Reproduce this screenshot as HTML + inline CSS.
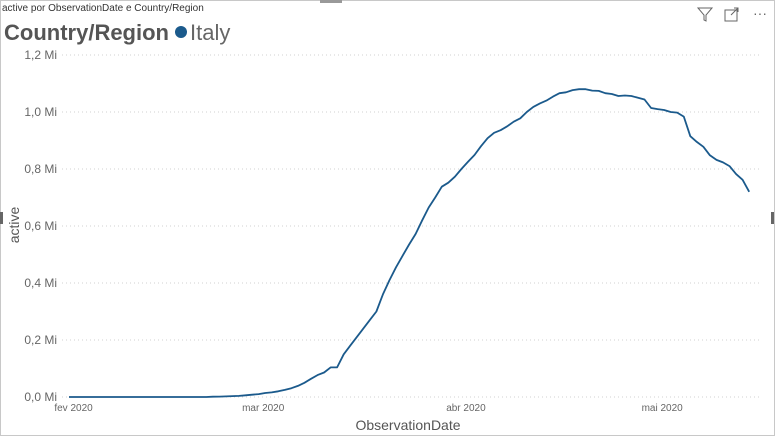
<!DOCTYPE html>
<html><head><meta charset="utf-8">
<style>
body{margin:0;width:775px;height:436px;overflow:hidden;background:#fff;font-family:"Liberation Sans",sans-serif}
#frame{position:absolute;left:0;top:0;width:773px;height:434px;border:1px solid #c8c8c8}
</style></head><body>
<div id="frame"></div>
<svg width="775" height="436" style="position:absolute;left:0;top:0" id="chart">
<rect x="320" y="0" width="22" height="3" fill="#999"/>
<rect x="771" y="212" width="3" height="12" fill="#666"/>
<rect x="0" y="212" width="3" height="12" fill="#666"/>
<text x="2" y="11" font-size="10" fill="#333" font-family="Liberation Sans Narrow, Liberation Sans, sans-serif">active por ObservationDate e Country/Region</text>
<text x="4" y="40" font-size="22" font-weight="bold" fill="#555">Country/Region</text>
<circle cx="181" cy="32" r="6" fill="#1b5a8c"/>
<text x="190" y="40" font-size="22" fill="#666">Italy</text>
<g fill="none" stroke="#666" stroke-width="1"><path d="M698 8 H712 L706 15 V21 L704 20 V15 Z"/></g>
<g fill="none" stroke="#666" stroke-width="1"><rect x="725" y="10" width="12" height="11"/><path d="M731 15 L738 8 M734 8 H738 V12"/></g>
<text x="753" y="18" font-size="14" fill="#666">···</text>
<g id="grid"></g>
<g id="yt"></g>
<g id="xt"></g>
<path id="line" fill="none" stroke="#1b5a8c" stroke-width="1.8" stroke-linejoin="round"/>
<text x="408" y="430" font-size="14" fill="#555" text-anchor="middle">ObservationDate</text>
<text transform="translate(19,225) rotate(-90)" font-size="14" fill="#555" text-anchor="middle">active</text>
</svg>
<script>
const yTicks=[0,0.2,0.4,0.6,0.8,1.0,1.2];
const yTickLabels=["0,0 Mi","0,2 Mi","0,4 Mi","0,6 Mi","0,8 Mi","1,0 Mi","1,2 Mi"];
const xTickDays=[1,30,61,91];
const xTickLabels=["fev 2020","mar 2020","abr 2020","mai 2020"];
// daily values (Mi) starting 2020-01-31
const activeValues=[0,0,0,0,0,0,0,0,0,0,0,0,0,0,0,0,0,0,0,0,0,0,
0.001,0.0015,0.002,0.003,0.004,0.006,0.008,0.010,0.014,0.016,0.020,0.025,0.031,0.039,0.050,0.064,0.077,0.086,
0.104,0.104,0.150,0.180,0.210,0.240,0.270,0.300,0.360,0.410,0.455,0.495,0.535,0.572,0.620,0.665,0.700,0.738,
0.752,0.773,0.800,0.825,0.849,0.880,0.908,0.927,0.936,0.950,0.966,0.978,1.000,1.018,1.030,1.040,1.054,1.066,
1.069,1.077,1.080,1.080,1.075,1.074,1.066,1.063,1.056,1.058,1.056,1.050,1.044,1.014,1.010,1.007,1.000,0.998,
0.984,0.915,0.895,0.878,0.848,0.832,0.823,0.810,0.782,0.762,0.720];
const ns="http://www.w3.org/2000/svg";
const X=d=>69+d*6.54;
const Y=v=>397-v*285;
const grid=document.getElementById('grid'),yt=document.getElementById('yt'),xt=document.getElementById('xt');
yTicks.forEach((t,i)=>{
  const l=document.createElementNS(ns,'line');
  l.setAttribute('x1',62);l.setAttribute('x2',760);l.setAttribute('y1',Y(t));l.setAttribute('y2',Y(t));
  l.setAttribute('stroke','#d0d0d0');l.setAttribute('stroke-dasharray','1,3');
  
  
  grid.appendChild(l);
  const tx=document.createElementNS(ns,'text');
  tx.setAttribute('x',57);tx.setAttribute('y',Y(t)+4);tx.setAttribute('text-anchor','end');
  tx.setAttribute('font-size','12');tx.setAttribute('fill','#666');tx.textContent=yTickLabels[i];
  
  
  yt.appendChild(tx);
});
xTickDays.forEach((d,i)=>{
  const tx=document.createElementNS(ns,'text');
  tx.setAttribute('x',X(d)-2);tx.setAttribute('y',411);tx.setAttribute('text-anchor','middle');
  tx.setAttribute('font-size','10');tx.setAttribute('fill','#666');tx.textContent=xTickLabels[i];
  
  
  xt.appendChild(tx);
});
document.getElementById('line').setAttribute('d',activeValues.map((v,i)=>(i?'L':'M')+X(i).toFixed(1)+' '+Y(v).toFixed(1)).join(' '));
</script>
</body></html>
